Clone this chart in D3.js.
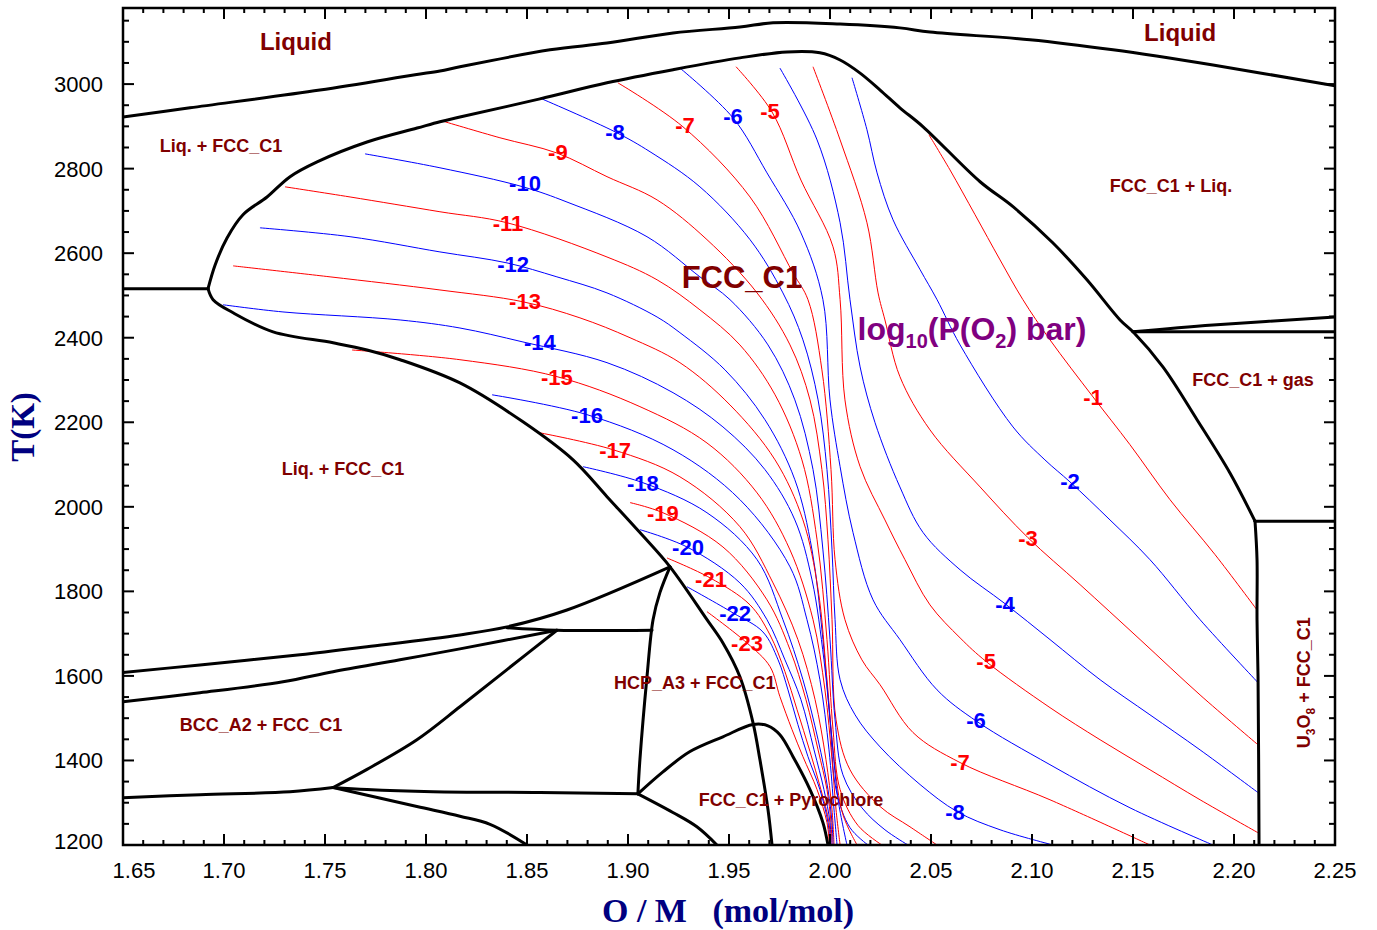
<!DOCTYPE html>
<html>
<head>
<meta charset="utf-8">
<script src="https://cdn.jsdelivr.net/npm/d3@7"></script>
<style>
  html, body { margin: 0; padding: 0; background: #fff; }
  svg text { font-family: "Liberation Sans", Arial, sans-serif; }
</style>
</head>
<body>
<svg id="chart" width="1377" height="930"></svg>
<script>
// ---------- axes ----------
const xDomain = [1.65, 2.25];
const tDomain = [1200, 3180];
const xTickLabels = [1.65, 1.70, 1.75, 1.80, 1.85, 1.90, 1.95, 2.00, 2.05, 2.10, 2.15, 2.20, 2.25];
const tTickLabels = [1200, 1400, 1600, 1800, 2000, 2200, 2400, 2600, 2800, 3000];

// ---------- phase boundaries: [O/M, T(K)] ----------
const liquidus = [[1.65,2922],[1.6832,2944],[1.7475,2986],[1.7946,3022],[1.8069,3031],[1.8168,3041],[1.8614,3081],[1.8896,3097],[1.9223,3121],[1.9554,3135],[1.9718,3145],[2.005,3142],[2.0346,3133],[2.0495,3123],[2.099,3105],[2.1401,3081],[2.1896,3045],[2.25,2996]];
const fccUpper = [[1.6921,2516],[1.6956,2572],[1.7015,2636],[1.7094,2691],[1.7213,2733],[1.7327,2781],[1.7461,2816],[1.7708,2863],[1.7956,2896],[1.8069,2911],[1.8168,2922],[1.8564,2965],[1.8896,3003],[1.9223,3034],[1.9554,3062],[1.9787,3076],[1.995,3074],[2.005,3057],[2.0149,3026],[2.0248,2986],[2.0346,2944],[2.0461,2899],[2.0743,2769],[2.0906,2710],[2.1104,2624],[2.1272,2537],[2.1436,2442],[2.15,2414],[2.1648,2331],[2.1817,2206],[2.198,2080],[2.2104,1966]];
const fccLower = [[1.6921,2516],[1.6946,2490],[1.7045,2459],[1.7243,2414],[1.754,2388],[1.7708,2371],[1.7872,2348],[1.8168,2293],[1.848,2201],[1.8728,2111],[1.8896,2024],[1.9059,1939],[1.9208,1858],[1.9391,1733],[1.947,1678],[1.9554,1598],[1.9619,1489],[1.9653,1402],[1.9693,1284],[1.9713,1200]];
const leftPeritectic = [[1.65,2516],[1.6921,2516]];
const gasLower = [[2.15,2414],[2.25,2414]];
const gasUpper = [[2.15,2414],[2.1896,2430],[2.25,2449]];
const u3o8Top = [[2.2104,1966],[2.25,1966]];
const u3o8Side = [[2.2104,1966],[2.2114,1875],[2.2114,1733],[2.2119,1598],[2.2124,1200]];
const bccUpper = [[1.65,1608],[1.6881,1626],[1.7376,1650],[1.7708,1669],[1.8168,1697],[1.8401,1716],[1.8698,1756],[1.9208,1858]];
const hcpTie = [[1.8401,1714],[1.8648,1708],[1.9119,1708]];
const bccLower = [[1.65,1539],[1.6881,1560],[1.7292,1586],[1.754,1610],[1.7871,1638],[1.8168,1664],[1.8648,1708]];
const bccDiagonal = [[1.754,1336],[1.7708,1379],[1.7955,1449],[1.8168,1527],[1.8401,1615],[1.8648,1708]];
const bottomLeft = [[1.65,1312],[1.6881,1319],[1.7327,1326],[1.754,1336]];
const eutectoid = [[1.754,1336],[1.7708,1331],[1.8035,1326],[1.8564,1324],[1.9049,1321]];
const lowBranch = [[1.754,1336],[1.7955,1291],[1.8168,1268],[1.8317,1249],[1.85,1200]];
const hcpSide = [[1.9208,1858],[1.9158,1797],[1.9124,1733],[1.9094,1598],[1.9059,1402],[1.9049,1321]];
const pyrochlore = [[1.9049,1321],[1.9173,1373],[1.9307,1421],[1.947,1456],[1.9619,1485],[1.9693,1482],[1.9752,1461],[1.9817,1409],[1.9901,1331],[1.9965,1253],[1.999,1200]];
const pyroLow = [[1.9049,1321],[1.9222,1277],[1.9341,1243],[1.944,1200]];

// ---------- oxygen potential isolines, log10(pO2 / bar) ----------
const pO2_m1 = [[2.049,2880],[2.0594,2797],[2.0718,2691],[2.0842,2584],[2.0955,2490],[2.1089,2395],[2.1302,2260],[2.1485,2147],[2.1683,2017],[2.1906,1887],[2.2114,1756]];
const pO2_m2 = [[2.0109,3015],[2.0183,2892],[2.0233,2790],[2.0312,2679],[2.0446,2561],[2.053,2490],[2.0644,2383],[2.0906,2189],[2.1064,2111],[2.1188,2059],[2.1386,1969],[2.1584,1875],[2.1832,1733],[2.2119,1584]];
const pO2_m3 = [[1.9916,3041],[2.005,2868],[2.0183,2672],[2.0238,2506],[2.0272,2442],[2.0346,2308],[2.0495,2182],[2.0743,2047],[2.098,1927],[2.1238,1816],[2.1535,1686],[2.1832,1555],[2.2119,1437]];
const pO2_m4 = [[1.9752,3038],[1.9936,2868],[2.005,2672],[2.0099,2490],[2.0149,2331],[2.0223,2199],[2.0346,2047],[2.0461,1939],[2.0644,1851],[2.0866,1771],[2.1089,1686],[2.1337,1591],[2.1584,1508],[2.1832,1425],[2.2119,1324]];
const pO2_m5 = [[1.9535,3041],[1.9713,2934],[1.9856,2773],[2.0015,2615],[2.005,2490],[2.0074,2253],[2.0149,2095],[2.0272,1969],[2.0371,1875],[2.0495,1768],[2.0644,1690],[2.0773,1634],[2.1089,1525],[2.1337,1449],[2.1584,1378],[2.1832,1307],[2.2119,1229]];
const pO2_m6 = [[1.9257,3038],[1.952,2920],[1.9688,2790],[1.9856,2648],[1.9965,2490],[2.0,2253],[2.005,2095],[2.0114,1939],[2.0213,1780],[2.0346,1686],[2.053,1567],[2.0728,1492],[2.1089,1390],[2.1485,1288],[2.1896,1200]];
const pO2_m7 = [[1.895,3003],[1.9272,2899],[1.9604,2733],[1.9817,2553],[1.9891,2490],[1.996,2324],[2.0005,2088],[2.0025,1875],[2.0074,1733],[2.0158,1638],[2.0248,1579],[2.0411,1466],[2.0644,1395],[2.1089,1307],[2.1584,1200]];
const pO2_m8 = [[1.8564,2967],[1.8936,2887],[1.9109,2840],[1.9356,2757],[1.9604,2632],[1.9767,2506],[1.9866,2395],[1.9941,2253],[1.9985,2088],[2.001,1898],[2.0025,1733],[2.005,1591],[2.0124,1508],[2.0248,1432],[2.0446,1343],[2.0629,1279],[2.0842,1236],[2.1104,1200]];
const pO2_m9 = [[1.8079,2913],[1.8366,2873],[1.8648,2837],[1.8896,2781],[1.9144,2726],[1.9391,2632],[1.9639,2506],[1.9802,2383],[1.9901,2253],[1.996,2088],[1.999,1922],[2.001,1733],[2.003,1496],[2.0099,1378],[2.0248,1291],[2.0396,1243],[2.053,1200]];
const pO2_m10 = [[1.7698,2835],[1.8069,2802],[1.848,2757],[1.8698,2721],[1.9094,2639],[1.9356,2544],[1.9505,2490],[1.9693,2383],[1.9826,2253],[1.9916,2088],[1.9965,1898],[2.0,1686],[2.0025,1496],[2.0064,1366],[2.0158,1288],[2.0272,1236],[2.0386,1200]];
const pO2_m11 = [[1.7302,2757],[1.7624,2733],[1.8069,2698],[1.8401,2672],[1.8896,2591],[1.9144,2537],[1.9356,2466],[1.9554,2383],[1.9728,2265],[1.9861,2111],[1.9936,1922],[1.9985,1686],[2.0015,1473],[2.005,1331],[2.0139,1246],[2.0257,1200]];
const pO2_m12 = [[1.7178,2660],[1.7624,2639],[1.8069,2603],[1.8401,2577],[1.8648,2544],[1.8896,2506],[1.9144,2449],[1.9257,2412],[1.948,2324],[1.9678,2206],[1.9826,2064],[1.9911,1898],[1.9965,1686],[2.0,1496],[2.003,1331],[2.0099,1241],[2.0188,1200]];
const pO2_m13 = [[1.7045,2570],[1.7525,2544],[1.8069,2513],[1.848,2485],[1.8762,2447],[1.901,2400],[1.9257,2341],[1.9505,2241],[1.9728,2111],[1.9866,1969],[1.9941,1804],[1.9985,1591],[2.002,1402],[2.0064,1272],[2.0134,1200]];
const pO2_m14 = [[1.6995,2478],[1.7292,2461],[1.7872,2442],[1.8168,2423],[1.848,2390],[1.8896,2341],[1.9223,2270],[1.947,2189],[1.9678,2088],[1.9826,1969],[1.9911,1827],[1.997,1638],[2.001,1449],[2.004,1307],[2.0084,1200]];
const pO2_m15 = [[1.7634,2371],[1.8168,2348],[1.8648,2308],[1.9059,2237],[1.9391,2151],[1.9639,2033],[1.9802,1898],[1.9916,1733],[1.9975,1567],[2.001,1402],[2.003,1283],[2.005,1200]];
const pO2_m16 = [[1.8327,2265],[1.8797,2218],[1.9223,2135],[1.9554,2017],[1.9802,1858],[1.9886,1733],[1.995,1591],[1.9995,1425],[2.002,1283],[2.0035,1200]];
const pO2_m17 = [[1.8564,2175],[1.8926,2135],[1.9257,2071],[1.9554,1953],[1.9718,1820],[1.9841,1686],[1.9926,1544],[1.998,1402],[2.001,1283],[2.002,1200]];
const pO2_m18 = [[1.8777,2095],[1.9074,2057],[1.9391,1986],[1.9639,1875],[1.9767,1733],[1.9866,1591],[1.9941,1449],[1.999,1331],[2.001,1253],[2.0015,1200]];
const pO2_m19 = [[1.901,2010],[1.9173,1986],[1.947,1905],[1.9688,1780],[1.9802,1662],[1.9881,1544],[1.9941,1425],[1.9985,1331],[2.0005,1253],[2.001,1200]];
const pO2_m20 = [[1.9059,1946],[1.9292,1905],[1.9554,1820],[1.9688,1733],[1.9777,1638],[1.9856,1544],[1.9921,1425],[1.997,1331],[2.0,1253],[2.0005,1200]];
const pO2_m21 = [[1.9193,1879],[1.9406,1832],[1.9604,1768],[1.9703,1697],[1.9777,1610],[1.9837,1520],[1.9901,1421],[1.9955,1331],[1.9995,1253],[2.0002,1200]];
const pO2_m22 = [[1.9292,1811],[1.952,1749],[1.9668,1704],[1.9743,1638],[1.9792,1567],[1.9841,1485],[1.9891,1409],[1.995,1331],[1.999,1253],[2.0,1200]];
const pO2_m23 = [[1.9391,1752],[1.9589,1678],[1.9703,1622],[1.9752,1551],[1.9812,1473],[1.9866,1409],[1.9936,1331],[1.9985,1253],[1.9997,1200]];

const isoLevels = [-1,-2,-3,-4,-5,-6,-7,-8,-9,-10,-11,-12,-13,-14,-15,-16,-17,-18,-19,-20,-21,-22,-23];
const isoLines = [pO2_m1,pO2_m2,pO2_m3,pO2_m4,pO2_m5,pO2_m6,pO2_m7,pO2_m8,pO2_m9,pO2_m10,pO2_m11,pO2_m12,pO2_m13,pO2_m14,pO2_m15,pO2_m16,pO2_m17,pO2_m18,pO2_m19,pO2_m20,pO2_m21,pO2_m22,pO2_m23];

// value labels placed on the isolines: [level, O/M, T]
const isoLabels = [
  [-9,1.8653,2840],[-7,1.9282,2903],[-5,1.9703,2937],[-8,1.8936,2887],[-6,1.952,2925],
  [-10,1.849,2766],[-11,1.8406,2672],[-12,1.8431,2575],[-13,1.849,2487],[-14,1.8564,2390],
  [-15,1.8648,2308],[-16,1.8797,2218],[-17,1.8936,2135],[-18,1.9074,2057],[-19,1.9173,1986],
  [-20,1.9297,1905],[-21,1.9411,1830],[-22,1.953,1749],[-23,1.9589,1678],
  [-1,2.1302,2260],[-2,2.1188,2062],[-3,2.098,1927],[-4,2.0866,1771],[-5,2.0773,1634],
  [-6,2.0723,1496],[-7,2.0644,1395],[-8,2.0619,1279]
];

// phase-field names: [text, O/M, T]
const fieldNames = [
  ["Liquid",1.7356,3100],["Liquid",2.1733,3122],
  ["Liq. + FCC_C1",1.6985,2854],["FCC_C1 + Liq.",2.1688,2759],
  ["FCC_C1 + gas",2.2094,2300],["Liq. + FCC_C1",1.7589,2090],
  ["BCC_A2 + FCC_C1",1.7183,1485],["HCP_A3 + FCC_C1",1.9331,1584],
  ["FCC_C1 + Pyrochlore",1.9807,1307]
];
const singlePhase = ["FCC_C1",1.9564,2544];
const potentialTitle = [2.0703,2421];
const u3o8Field = [2.2342,1584];

// ---------- drawing ----------
const L = 123, R = 1335, TOP = 8, BOT = 845;
const x = d3.scaleLinear().domain(xDomain).range([L, R]);
const y = d3.scaleLinear().domain(tDomain).range([BOT, TOP]);
const svg = d3.select("#chart");

svg.append("defs").append("clipPath").attr("id", "plotClip")
  .append("rect").attr("x", L).attr("y", TOP).attr("width", R - L).attr("height", BOT - TOP);

const smooth = d3.line().x(d => x(d[0])).y(d => y(d[1])).curve(d3.curveCatmullRom.alpha(0.5));

const plot = svg.append("g").attr("clip-path", "url(#plotClip)");

// isolines
const isoG = plot.append("g");
isoLines.forEach((pts, i) => {
  const v = isoLevels[i];
  isoG.append("path")
    .attr("d", smooth(pts))
    .attr("fill", "none")
    .attr("stroke", v % 2 === 0 ? "#0000ff" : "#ff0000")
    .attr("stroke-width", 1);
});

// phase boundaries
const boundaries = [liquidus, fccUpper, fccLower, leftPeritectic, gasLower, gasUpper, u3o8Top, u3o8Side,
  bccUpper, hcpTie, bccLower, bccDiagonal, bottomLeft, eutectoid, lowBranch, hcpSide, pyrochlore, pyroLow];
const bG = plot.append("g");
boundaries.forEach(pts => {
  bG.append("path")
    .attr("d", smooth(pts))
    .attr("fill", "none")
    .attr("stroke", "#000")
    .attr("stroke-width", 3)
    .attr("stroke-linejoin", "round")
    .attr("stroke-linecap", "round");
});

// isoline value labels
const labG = svg.append("g");
isoLabels.forEach(([v, om, t]) => {
  labG.append("text")
    .attr("x", x(om)).attr("y", y(t))
    .attr("dy", "0.36em")
    .attr("text-anchor", "middle")
    .attr("font-size", 22)
    .attr("font-weight", "bold")
    .attr("fill", v % 2 === 0 ? "#0000ff" : "#ff0000")
    .text(String(v));
});

// phase field names
const fieldG = svg.append("g").attr("fill", "#800000").attr("font-weight", "bold");
fieldNames.forEach(([txt, om, t]) => {
  fieldG.append("text")
    .attr("x", x(om)).attr("y", y(t))
    .attr("dy", "0.36em")
    .attr("text-anchor", "middle")
    .attr("font-size", txt === "Liquid" ? 24 : 18)
    .text(txt);
});
fieldG.append("text")
  .attr("x", x(singlePhase[1])).attr("y", y(singlePhase[2]))
  .attr("dy", "0.36em").attr("text-anchor", "middle")
  .attr("font-size", 31)
  .text(singlePhase[0]);

// U3O8 + FCC_C1 (vertical)
const uText = fieldG.append("text")
  .attr("transform", `translate(${x(u3o8Field[0])},${y(u3o8Field[1])}) rotate(-90)`)
  .attr("dy", "0.36em").attr("text-anchor", "middle")
  .attr("font-size", 18);
uText.append("tspan").text("U");
uText.append("tspan").attr("font-size", 12).attr("dy", 5).text("3");
uText.append("tspan").attr("dy", -5).text("O");
uText.append("tspan").attr("font-size", 12).attr("dy", 5).text("8");
uText.append("tspan").attr("dy", -5).text(" + FCC_C1");

// log10(P(O2) bar)
const pt = svg.append("text")
  .attr("x", x(potentialTitle[0])).attr("y", y(potentialTitle[1]))
  .attr("dy", "0.36em").attr("text-anchor", "middle")
  .attr("font-size", 32).attr("font-weight", "bold").attr("fill", "#800080");
pt.append("tspan").text("log");
pt.append("tspan").attr("font-size", 20).attr("dy", 8).text("10");
pt.append("tspan").attr("dy", -8).text("(P(O");
pt.append("tspan").attr("font-size", 20).attr("dy", 8).text("2");
pt.append("tspan").attr("dy", -8).text(") bar)");

// ---------- frame and ticks ----------
const axG = svg.append("g").attr("stroke", "#000").attr("stroke-width", 2);
const xMinor = d3.range(0, 61).map(i => 1.65 + i * 0.01);
xMinor.forEach((v, i) => {
  const major = i % 5 === 0;
  const len = major ? 11 : 5;
  axG.append("line").attr("x1", x(v)).attr("x2", x(v)).attr("y1", BOT).attr("y2", BOT - len);
  axG.append("line").attr("x1", x(v)).attr("x2", x(v)).attr("y1", TOP).attr("y2", TOP + len);
});
const tMinor = d3.range(1200, 3180, 50);
tMinor.forEach(v => {
  const major = v % 200 === 0;
  const len = major ? 11 : 6;
  axG.append("line").attr("x1", L).attr("x2", L + len).attr("y1", y(v)).attr("y2", y(v));
  axG.append("line").attr("x1", R).attr("x2", R - len).attr("y1", y(v)).attr("y2", y(v));
});
svg.append("rect")
  .attr("x", L).attr("y", TOP).attr("width", R - L).attr("height", BOT - TOP)
  .attr("fill", "none").attr("stroke", "#000").attr("stroke-width", 2.5);

// tick labels (first ones nudged off the corner)
const tickG = svg.append("g").attr("font-size", 22).attr("fill", "#000");
xTickLabels.forEach((v, i) => {
  tickG.append("text").attr("x", x(v) + (i === 0 ? 11 : 0)).attr("y", 878)
    .attr("text-anchor", "middle").text(v.toFixed(2));
});
tTickLabels.forEach((v, i) => {
  tickG.append("text").attr("x", 103).attr("y", y(v) - (i === 0 ? 4 : 0))
    .attr("dy", "0.36em").attr("text-anchor", "end").text(v);
});

// axis titles
svg.append("text")
  .attr("transform", `translate(34,427) rotate(-90)`)
  .attr("text-anchor", "middle")
  .style("font-family", "'Liberation Serif', 'Times New Roman', serif")
  .attr("font-size", 33).attr("font-weight", "bold").attr("fill", "#000080")
  .text("T(K)");
svg.append("text")
  .attr("x", 728).attr("y", 922)
  .attr("text-anchor", "middle")
  .style("font-family", "'Liberation Serif', 'Times New Roman', serif")
  .style("white-space", "pre")
  .attr("font-size", 34).attr("font-weight", "bold").attr("fill", "#000080")
  .text("O / M   (mol/mol)");
</script>
</body>
</html>
